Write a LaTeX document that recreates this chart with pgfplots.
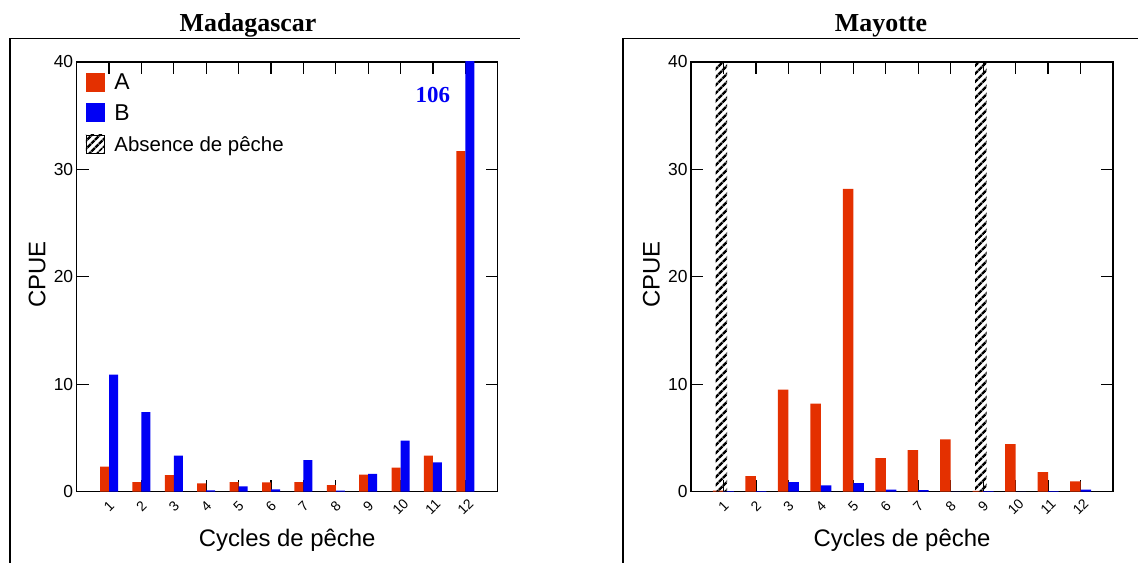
\documentclass[border=0pt]{standalone}
\usepackage{fontspec}
\setmainfont{Liberation Sans}
\newfontfamily\timesfont{Liberation Serif}
\usepackage{pgfplots}
\pgfplotsset{compat=1.18}
\usetikzlibrary{patterns.meta}
\definecolor{cred}{RGB}{228,48,0}
\definecolor{cblue}{RGB}{0,0,245}

\pgfplotsset{
  panel/.style={
    scale only axis, width=421bp, height=429.7bp,
    anchor=south west,
    xmin=0, xmax=13, ymin=0, ymax=40,
    xtick={1,...,12},
    ytick={0,10,20,30,40},
    tick align=inside,
    major tick length=12bp,
    axis line style={line width=1.5bp, black},
    every tick/.style={line width=1.2bp, black},
    /pgf/number format/assume math mode=true,
    yticklabel style={font=\fontsize{17.5}{17.5}\selectfont},
    xticklabel style={font=\fontsize{14}{14}\selectfont, yshift=-15bp, rotate=45, anchor=center},
    ylabel={CPUE},
    xlabel={Cycles de pêche},
    label style={font=\fontsize{24}{24}\selectfont},
    ylabel style={at={(axis description cs:-0.094,0.505)}, anchor=center},
    xlabel style={at={(axis description cs:0.5,-0.1124)}, anchor=center},
    clip=true,
  },
}

\begin{document}
\begin{tikzpicture}
\useasboundingbox (0,0) rectangle (1138bp,563bp);
% outer frames
\draw[line width=1.3bp] (10bp,0) -- (10bp,524.5bp) -- (520bp,524.5bp);
\draw[line width=1.3bp] (623bp,0) -- (623bp,524.5bp) -- (1138bp,524.5bp);
% titles
\node[anchor=base, font=\timesfont\bfseries\fontsize{26}{26}\selectfont] at (248bp,531bp) {Madagascar};
\node[anchor=base, font=\timesfont\bfseries\fontsize{26}{26}\selectfont] at (881bp,531bp) {Mayotte};

\begin{axis}[panel, at={(76.7bp,71.3bp)},
  legend style={draw=none, fill=none, at={(axis description cs:0.018,0.976)}, anchor=north west,
    inner sep=0pt, row sep=0pt,
    nodes={inner sep=0pt, text height=13.25bp, text depth=13.25bp},
    /tikz/every odd column/.append style={column sep=9bp}},
  legend cell align=left]
\addlegendimage{legend image code/.code={\fill[cred] (0bp,-1bp) rectangle (18bp,17bp);}}
\addlegendentry{\fontsize{23}{23}\selectfont A}
\addlegendimage{legend image code/.code={\fill[cblue] (0bp,-1bp) rectangle (18bp,17bp);}}
\addlegendentry{\fontsize{23}{23}\selectfont B}
\addlegendimage{legend image code/.code={\fill[pattern={Lines[angle=45,distance=6bp,line width=3bp]}, pattern color=black] (0bp,-1bp) rectangle (18bp,17bp);}}
\addlegendentry{\fontsize{20.5}{20.5}\selectfont Absence de pêche}
\addplot[forget plot, ybar, bar width=9bp, bar shift=-4.5bp, fill=cred, draw=none] coordinates {
(1,2.33) (2,0.9) (3,1.55) (4,0.78) (5,0.9) (6,0.87) (7,0.9) (8,0.62) (9,1.58) (10,2.23) (11,3.35) (12,31.7)};
\addplot[forget plot, ybar, bar width=9bp, bar shift=4.5bp, fill=cblue, draw=none] coordinates {
(1,10.9) (2,7.4) (3,3.35) (4,0.12) (5,0.5) (6,0.22) (7,2.95) (8,0.1) (9,1.67) (10,4.75) (11,2.73) (12,106)};
\node[font=\timesfont\bfseries\fontsize{23}{23}\selectfont, text=cblue] at (axis cs:11,36.9) {106};
\end{axis}

\begin{axis}[panel, at={(691bp,71.3bp)}, width=422bp]
\addplot[ybar, bar width=10.5bp, bar shift=-5.25bp, fill=cred, draw=none] coordinates {
(1,0.1) (2,1.46) (3,9.5) (4,8.2) (5,28.2) (6,3.13) (7,3.88) (8,4.87) (9,0.08) (10,4.43) (11,1.83) (12,0.97)};
\addplot[ybar, bar width=10.5bp, bar shift=5.25bp, fill=cblue, draw=none] coordinates {
(1,0.06) (2,0.06) (3,0.9) (4,0.6) (5,0.8) (6,0.2) (7,0.15) (8,0) (9,0.06) (10,0) (11,0.06) (12,0.2)};
\addplot[ybar, bar width=11.5bp, bar shift=-2.2bp, draw=none, pattern={Lines[angle=45,distance=6bp,line width=3bp]}, pattern color=black] coordinates {
(1,40) (9,40)};
\end{axis}
\end{tikzpicture}
\end{document}
